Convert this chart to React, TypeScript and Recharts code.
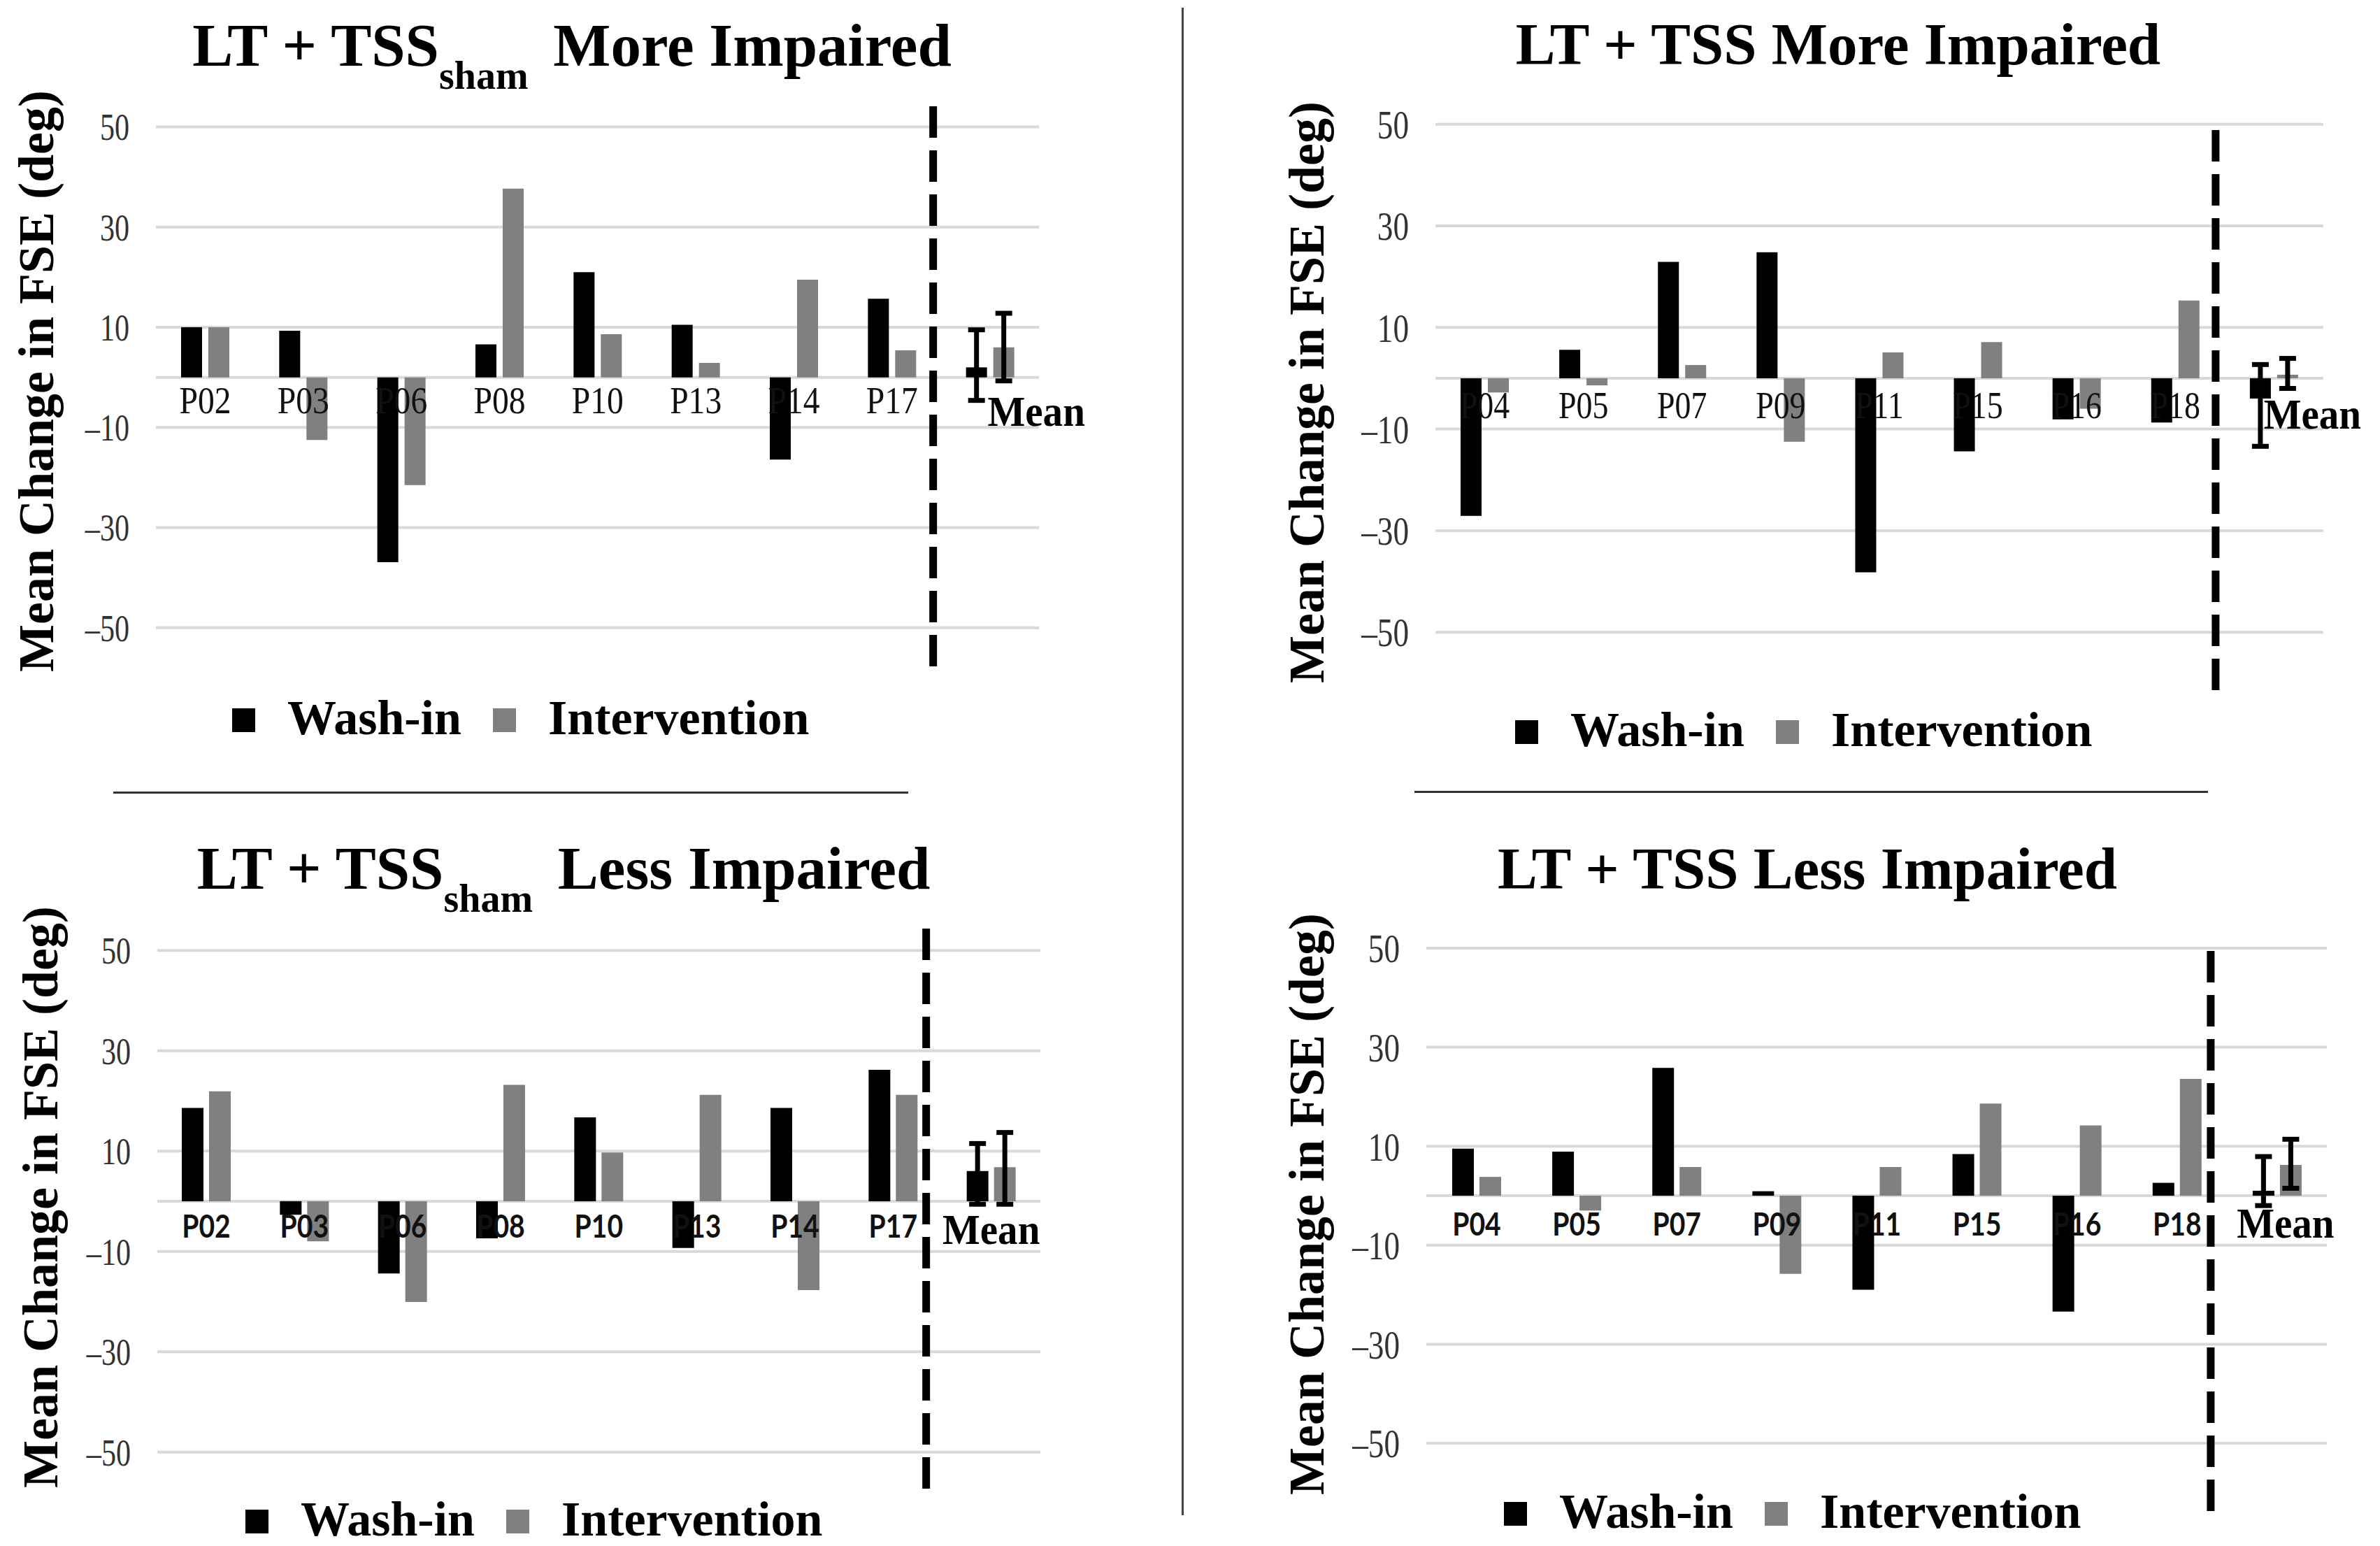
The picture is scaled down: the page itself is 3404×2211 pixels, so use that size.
import React from 'react';
import { BarChart, Bar, XAxis, YAxis, CartesianGrid, ReferenceLine, ErrorBar, LabelList } from 'recharts';

const SERIES_NAMES = ['Wash-in', 'Intervention'];
const SERIES_COLORS = ['#000000', '#808080'];
const Y_TICKS = [-50, -30, -10, 0, 10, 30, 50];

const SHAM_IDS = ['P02', 'P03', 'P06', 'P08', 'P10', 'P13', 'P14', 'P17', 'Mean'];
const TSS_IDS = ['P04', 'P05', 'P07', 'P09', 'P11', 'P15', 'P16', 'P18', 'Mean'];

// LT + TSSsham, more impaired
const SHAM_MORE_WASH = [10.0, 9.3, -36.9, 6.6, 21.0, 10.5, -16.4, 15.7, 2.0];
const SHAM_MORE_INT = [10.0, -12.5, -21.5, 37.7, 8.6, 2.9, 19.5, 5.4, 6.0];
const SHAM_MORE_WASH_ERR = [6.6, 7.5];
const SHAM_MORE_INT_ERR = [6.7, 6.8];

// LT + TSS, more impaired
const TSS_MORE_WASH = [-27.1, 5.6, 22.9, 24.8, -38.2, -14.4, -8.1, -8.7, -4.0];
const TSS_MORE_INT = [-2.8, -1.4, 2.6, -12.5, 5.1, 7.1, -6.0, 15.3, 0.7];
const TSS_MORE_WASH_ERR = [9.4, 6.7];
const TSS_MORE_INT_ERR = [2.7, 3.2];

// LT + TSSsham, less impaired
const SHAM_LESS_WASH = [18.6, -2.7, -14.4, -7.4, 16.7, -9.3, 18.6, 26.2, 6.0];
const SHAM_LESS_INT = [21.9, -8.0, -20.1, 23.2, 9.7, 21.2, -17.7, 21.2, 6.8];
const SHAM_LESS_WASH_ERR = [6.6, 5.5];
const SHAM_LESS_INT_ERR = [7.4, 6.9];

// LT + TSS, less impaired
const TSS_LESS_WASH = [9.5, 8.9, 25.8, 0.9, -19.0, 8.4, -23.4, 2.6, 1.0];
const TSS_LESS_INT = [3.8, -3.0, 5.8, -15.8, 5.8, 18.6, 14.2, 23.6, 6.2];
const TSS_LESS_WASH_ERR = [3.0, 6.9];
const TSS_LESS_INT_ERR = [4.7, 5.2];

const SERIF = '"Liberation Serif", "Times New Roman", serif';

function buildRows(ids: string[], wash: number[], int: number[], washErr: number[], intErr: number[]) {
  return ids.map((id, i) => ({
    id,
    wash: wash[i],
    int: int[i],
    washErr: id === 'Mean' ? washErr : undefined,
    intErr: id === 'Mean' ? intErr : undefined,
  }));
}

const panels = [
  {
    key: 'sham-more',
    rows: buildRows(SHAM_IDS, SHAM_MORE_WASH, SHAM_MORE_INT, SHAM_MORE_WASH_ERR, SHAM_MORE_INT_ERR),
    title: ['LT + TSS', 'sham', 'More Impaired'],
    titleX: 818, titleY: 94, titleSize: 87,
    left: 0, top: 0, width: 1606, height: 963,
    margin: { top: 135, right: 120, bottom: 10, left: 0 },
    yWidth: 223, domain: [-57.7, 56.5],
    barSize: 30, barGap: 9, tickSize: 54, dashShift: -11,
    catFont: SERIF, catSize: 56, catWeight: 'normal', catBase: 51,
    meanDx: 66, meanBase: 69,
    yLabelX: 52, yLabelY: 545,
    legendX: 332, legendY: 1051,
  },
  {
    key: 'tss-more',
    rows: buildRows(TSS_IDS, TSS_MORE_WASH, TSS_MORE_INT, TSS_MORE_WASH_ERR, TSS_MORE_INT_ERR),
    title: ['LT + TSS More Impaired'],
    titleX: 2629, titleY: 92, titleSize: 85,
    left: 1700, top: 0, width: 1698, height: 997,
    margin: { top: 169, right: 75, bottom: 10, left: 0 },
    yWidth: 353, domain: [-61.4, 51.2],
    barSize: 30, barGap: 9, tickSize: 58, dashShift: -13,
    catFont: SERIF, catSize: 54, catWeight: 'normal', catBase: 57,
    meanDx: 55, meanBase: 72,
    yLabelX: 1869, yLabelY: 561,
    legendX: 2167, legendY: 1068,
  },
  {
    key: 'sham-less',
    rows: buildRows(SHAM_IDS, SHAM_LESS_WASH, SHAM_LESS_INT, SHAM_LESS_WASH_ERR, SHAM_LESS_INT_ERR),
    title: ['LT + TSS', 'sham', 'Less Impaired'],
    titleX: 806, titleY: 1271, titleSize: 87,
    left: 0, top: 1200, width: 1608, height: 939,
    margin: { top: 114, right: 120, bottom: 10, left: 0 },
    yWidth: 225, domain: [-57.3, 56.3],
    barSize: 31, barGap: 8, tickSize: 54, dashShift: -23,
    catFont: 'Lato, "Open Sans", sans-serif', catSize: 46, catWeight: 'bold', catBase: 52,
    meanDx: 0, meanBase: 61,
    yLabelX: 58, yLabelY: 1712,
    legendX: 351, legendY: 2197,
  },
  {
    key: 'tss-less',
    rows: buildRows(TSS_IDS, TSS_LESS_WASH, TSS_LESS_INT, TSS_LESS_WASH_ERR, TSS_LESS_INT_ERR),
    title: ['LT + TSS Less Impaired'],
    titleX: 2585, titleY: 1271, titleSize: 85,
    left: 1700, top: 1200, width: 1698, height: 971,
    margin: { top: 156, right: 70, bottom: 10, left: 0 },
    yWidth: 340, domain: [-63.7, 50],
    barSize: 31, barGap: 8, tickSize: 58, dashShift: -23,
    catFont: 'Lato, "Open Sans", sans-serif', catSize: 46, catWeight: 'bold', catBase: 57,
    meanDx: 12, meanBase: 60,
    yLabelX: 1869, yLabelY: 1722,
    legendX: 2151, legendY: 2186,
  },
];

type Panel = (typeof panels)[number];

function makeTick(size: number) {
  return function Tick(props: any) {
    const { x, y, payload } = props;
    const v = payload.value as number;
    if (v === 0) return <g />;
    const txt = v < 0 ? '\u2013' + Math.abs(v) : String(v);
    return (
      <text
        transform={`translate(${x},${y}) scale(0.78,1)`}
        textAnchor="end"
        dy="0.35em"
        fontFamily={SERIF}
        fontSize={size}
        fill="#333"
      >
        {txt}
      </text>
    );
  };
}

function makeCategoryLabel(p: Panel) {
  return function CategoryLabel(props: any) {
    const vb = props.viewBox ?? props;
    const x = Number(vb.x ?? props.x);
    const y = Number(vb.y ?? props.y);
    const height = Number(vb.height ?? props.height);
    const row = p.rows[props.index];
    if (!row) return null;
    const zero = height < 0 ? y + height : row.int >= 0 ? y + height : y;
    const cx = x - p.barGap / 2;
    if (row.id === 'Mean') {
      return (
        <text
          transform={`translate(${cx + p.meanDx},${zero + p.meanBase}) scale(0.92,1)`}
          textAnchor="middle"
          fontFamily={SERIF}
          fontWeight="bold"
          fontSize={62}
          fill="#000"
        >
          Mean
        </text>
      );
    }
    return (
      <text
        transform={`translate(${cx},${zero + p.catBase}) scale(0.85,1)`}
        textAnchor="middle"
        fontFamily={p.catFont}
        fontWeight={p.catWeight}
        fontSize={p.catSize}
        fill="#111"
      >
        {row.id}
      </text>
    );
  };
}

// hand-drawn separator between the participants and the mean
function makeDashShape(shift: number) {
  return function DashShape(props: any) {
    const x1 = Number(props.x1) + shift;
    const x2 = Number(props.x2) + shift;
    return (
      <line
        x1={x1}
        y1={props.y1}
        x2={x2}
        y2={props.y2}
        stroke="#000"
        strokeWidth={11}
        strokeDasharray="45 18"
      />
    );
  };
}

function Title({ p }: { p: Panel }) {
  const size = p.titleSize;
  return (
    <div
      style={{
        position: 'absolute',
        left: p.titleX - 800,
        top: p.titleY - 0.8375 * size,
        width: 1600,
        textAlign: 'center',
        whiteSpace: 'nowrap',
        fontFamily: SERIF,
        fontWeight: 'bold',
        fontSize: size,
        lineHeight: 1,
        color: '#000',
      }}
    >
      {p.title[0]}
      {p.title.length > 1 && (
        <>
          <span style={{ fontSize: 56, position: 'relative', top: 33 }}>{p.title[1]}</span>
          <span style={{ marginLeft: 14 }}> {p.title[2]}</span>
        </>
      )}
    </div>
  );
}

function YLabel({ p }: { p: Panel }) {
  return (
    <div
      style={{
        position: 'absolute',
        left: p.yLabelX,
        top: p.yLabelY,
        transform: 'translate(-50%, -50%) rotate(-90deg)',
        whiteSpace: 'nowrap',
        fontFamily: SERIF,
        fontWeight: 'bold',
        fontSize: 72,
        lineHeight: 1,
        color: '#000',
      }}
    >
      Mean Change in FSE (deg)
    </div>
  );
}

function LegendRow({ p }: { p: Panel }) {
  return (
    <div
      style={{
        position: 'absolute',
        left: p.legendX,
        top: p.legendY - 0.8375 * 70,
        display: 'flex',
        alignItems: 'center',
        height: 70,
        fontFamily: SERIF,
        fontWeight: 'bold',
        fontSize: 70,
        lineHeight: 1,
        whiteSpace: 'nowrap',
      }}
    >
      {SERIES_NAMES.map((name, i) => (
        <React.Fragment key={name}>
          <span style={{ width: 33, height: 34, background: SERIES_COLORS[i], marginRight: 46, marginTop: 6 }} />
          <span style={{ marginRight: 45 }}>{name}</span>
        </React.Fragment>
      ))}
    </div>
  );
}

function PanelChart({ p }: { p: Panel }) {
  return (
    <div style={{ position: 'absolute', left: p.left, top: p.top, width: p.width, height: p.height }}>
      <BarChart
        width={p.width}
        height={p.height}
        data={p.rows}
        margin={p.margin}
        barSize={p.barSize}
        barGap={p.barGap}
      >
        <CartesianGrid vertical={false} horizontalValues={Y_TICKS} stroke="#d9d9d9" strokeWidth={4} />
        <XAxis dataKey="id" hide />
        <YAxis
          type="number"
          domain={p.domain}
          ticks={Y_TICKS}
          interval={0}
          width={p.yWidth}
          axisLine={false}
          tickLine={false}
          tickSize={0}
          tickMargin={38}
          tick={makeTick(p.tickSize)}
        />
        <ReferenceLine x="Mean" position="start" stroke="#000" shape={makeDashShape(p.dashShift)} />
        <Bar dataKey="wash" name={SERIES_NAMES[0]} fill={SERIES_COLORS[0]} isAnimationActive={false}>
          <ErrorBar dataKey="washErr" width={12} stroke="#000" strokeWidth={7} direction="y" />
        </Bar>
        <Bar dataKey="int" name={SERIES_NAMES[1]} fill={SERIES_COLORS[1]} isAnimationActive={false}>
          <ErrorBar dataKey="intErr" width={12} stroke="#000" strokeWidth={7} direction="y" />
          <LabelList dataKey="id" content={makeCategoryLabel(p)} />
        </Bar>
      </BarChart>
    </div>
  );
}

export default function App() {
  return (
    <div
      style={{
        position: 'absolute',
        left: 0,
        top: 0,
        width: 3404,
        height: 2211,
        background: '#fff',
        overflow: 'hidden',
      }}
    >
      {panels.map((p) => (
        <React.Fragment key={p.key}>
          <PanelChart p={p} />
          <Title p={p} />
          <YLabel p={p} />
          <LegendRow p={p} />
        </React.Fragment>
      ))}
      {/* dividers between the four panels */}
      <div style={{ position: 'absolute', left: 1690, top: 11, width: 3, height: 2156, background: '#444' }} />
      <div style={{ position: 'absolute', left: 162, top: 1132, width: 1137, height: 3, background: '#333' }} />
      <div style={{ position: 'absolute', left: 2023, top: 1131, width: 1135, height: 3, background: '#333' }} />
    </div>
  );
}
